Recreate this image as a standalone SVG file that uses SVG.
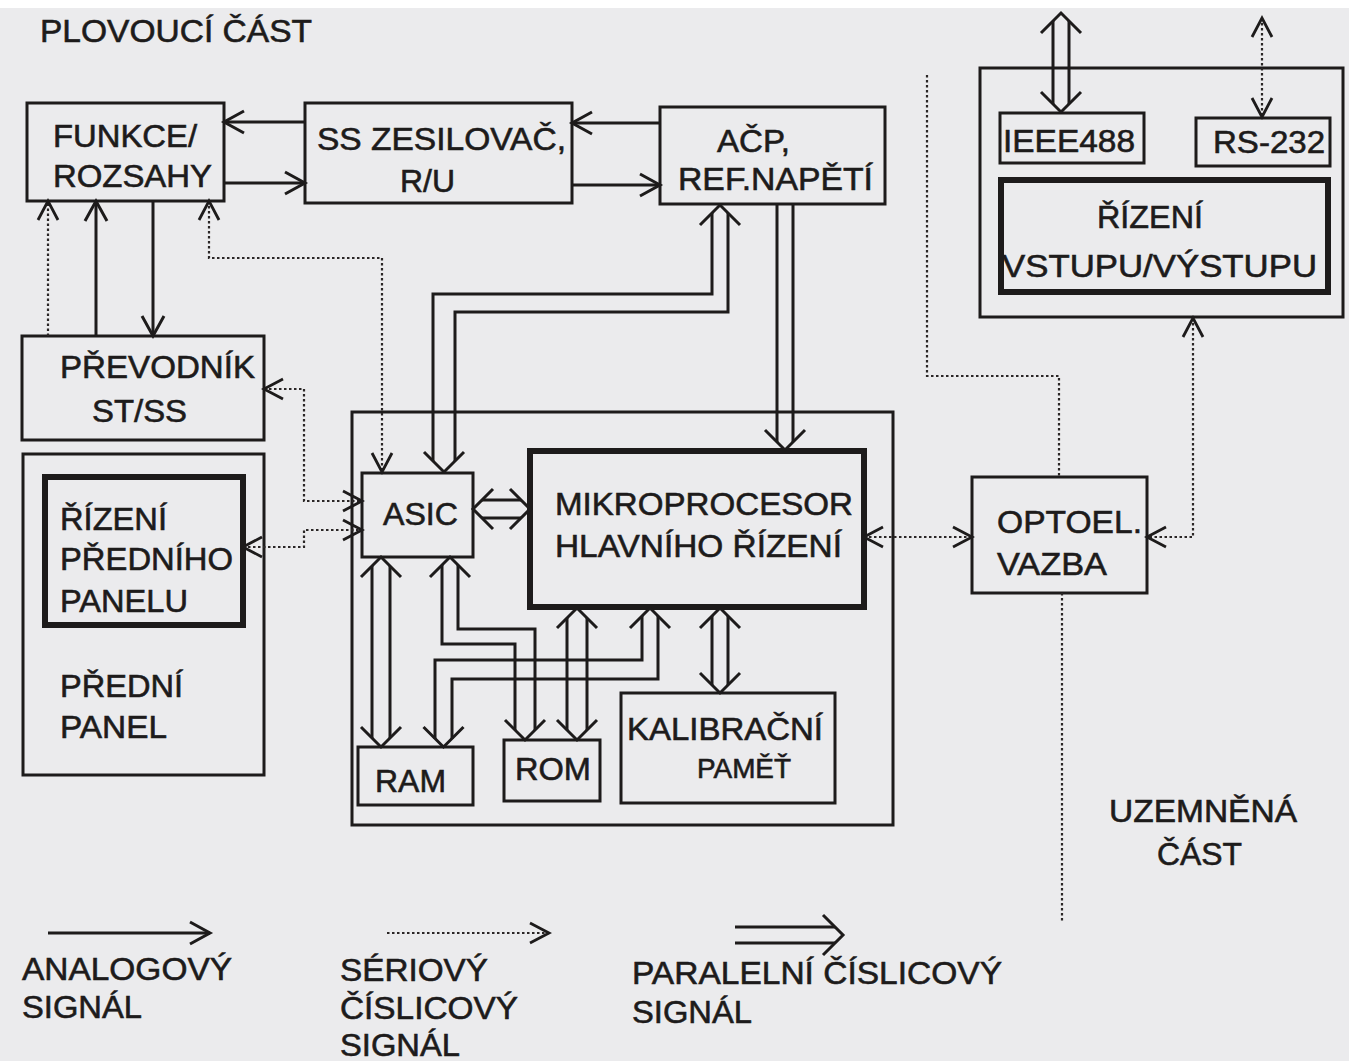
<svg xmlns="http://www.w3.org/2000/svg" width="1349" height="1061" viewBox="0 0 1349 1061">
<defs>
<style>
.box{fill:none;stroke:#1d1b1b;stroke-width:3}
.thick{fill:none;stroke:#1d1b1b;stroke-width:6}
.a{fill:none;stroke:#1d1b1b;stroke-width:3}
.d{fill:none;stroke:#2a2626;stroke-width:2.2;stroke-dasharray:2.5 2.5}
.bus{fill:none;stroke:#1d1b1b;stroke-width:3}
.t{font-family:"Liberation Sans",Arial,sans-serif;font-size:32px;fill:#1d1b1b;stroke:#1d1b1b;stroke-width:0.6}
.lg{font-size:32px}
</style>
<marker id="ah" markerUnits="userSpaceOnUse" markerWidth="30" markerHeight="30" refX="0" refY="0" orient="auto-start-reverse" overflow="visible">
<path d="M-20,-11 L0,0 L-20,11" fill="none" stroke="#1d1b1b" stroke-width="3"/>
</marker>
<marker id="ahd" markerUnits="userSpaceOnUse" markerWidth="30" markerHeight="30" refX="0" refY="0" orient="auto-start-reverse" overflow="visible">
<path d="M-19,-10 L0,0 L-19,10" fill="none" stroke="#1d1b1b" stroke-width="2.8"/>
</marker>
</defs>
<rect x="0" y="0" width="1349" height="1061" fill="#ebebed"/>
<rect x="0" y="0" width="1349" height="8" fill="#ffffff"/>

<text class="t" x="40" y="42" textLength="272" lengthAdjust="spacingAndGlyphs">PLOVOUCÍ ČÁST</text>

<g id="funkce"><rect class="box" x="27" y="103" width="197" height="98"/>
<text class="t" x="53" y="147" textLength="144" lengthAdjust="spacingAndGlyphs">FUNKCE/</text>
<text class="t" x="53" y="187" textLength="159" lengthAdjust="spacingAndGlyphs">ROZSAHY</text></g>

<g id="ss-zesilovac"><rect class="box" x="305" y="103" width="267" height="100"/>
<text class="t" x="317" y="150" textLength="249" lengthAdjust="spacingAndGlyphs">SS ZESILOVAČ,</text>
<text class="t" x="400" y="192" textLength="55" lengthAdjust="spacingAndGlyphs">R/U</text></g>

<g id="acp"><rect class="box" x="660" y="107" width="225" height="97"/>
<text class="t" x="717" y="152" textLength="73" lengthAdjust="spacingAndGlyphs">AČP,</text>
<text class="t" x="678" y="190" textLength="195" lengthAdjust="spacingAndGlyphs">REF.NAPĚTÍ</text></g>

<g id="prevodnik"><rect class="box" x="22" y="336" width="242" height="104"/>
<text class="t" x="60" y="378" textLength="195" lengthAdjust="spacingAndGlyphs">PŘEVODNÍK</text>
<text class="t" x="92" y="422" textLength="95" lengthAdjust="spacingAndGlyphs">ST/SS</text></g>

<g id="predni-panel"><rect class="box" x="23" y="454" width="241" height="321"/>
<text class="t" x="60" y="697" textLength="123" lengthAdjust="spacingAndGlyphs">PŘEDNÍ</text>
<text class="t" x="60" y="738" textLength="107" lengthAdjust="spacingAndGlyphs">PANEL</text></g>

<g id="rizeni-predniho"><rect class="thick" x="45" y="477" width="198" height="148"/>
<text class="t" x="60" y="530" textLength="107" lengthAdjust="spacingAndGlyphs">ŘÍZENÍ</text>
<text class="t" x="60" y="570" textLength="173" lengthAdjust="spacingAndGlyphs">PŘEDNÍHO</text>
<text class="t" x="60" y="612" textLength="128" lengthAdjust="spacingAndGlyphs">PANELU</text></g>

<g id="ridici-blok"><rect class="box" x="352" y="412" width="541" height="413"/></g>

<g id="asic"><rect class="box" x="362" y="473" width="111" height="84"/>
<text class="t" x="383" y="525" textLength="75" lengthAdjust="spacingAndGlyphs">ASIC</text></g>

<g id="mikroprocesor"><rect class="thick" x="530" y="451" width="334" height="156"/>
<text class="t" x="555" y="515" textLength="298" lengthAdjust="spacingAndGlyphs">MIKROPROCESOR</text>
<text class="t" x="555" y="557" textLength="287" lengthAdjust="spacingAndGlyphs">HLAVNÍHO ŘÍZENÍ</text></g>

<g id="ram"><rect class="box" x="358" y="747" width="115" height="58"/>
<text class="t" x="375" y="792" textLength="71" lengthAdjust="spacingAndGlyphs">RAM</text></g>

<g id="rom"><rect class="box" x="504" y="740" width="96" height="61"/>
<text class="t" x="515" y="780" textLength="76" lengthAdjust="spacingAndGlyphs">ROM</text></g>

<g id="kalibracni"><rect class="box" x="621" y="693" width="214" height="110"/>
<text class="t" x="627" y="740" textLength="196" lengthAdjust="spacingAndGlyphs">KALIBRAČNÍ</text>
<text class="t" x="697" y="778" style="font-size:27px" textLength="94" lengthAdjust="spacingAndGlyphs">PAMĚŤ</text></g>

<g id="optoel"><rect class="box" x="972" y="477" width="175" height="116"/>
<text class="t" x="997" y="533" textLength="145" lengthAdjust="spacingAndGlyphs">OPTOEL.</text>
<text class="t" x="997" y="575" textLength="110" lengthAdjust="spacingAndGlyphs">VAZBA</text></g>

<g id="uzemnena"><rect class="box" x="980" y="68" width="363" height="249"/></g>

<g id="ieee488"><rect class="box" x="1000" y="113" width="144" height="50"/>
<text class="t" x="1003" y="152" textLength="132" lengthAdjust="spacingAndGlyphs">IEEE488</text></g>

<g id="rs232"><rect class="box" x="1196" y="118" width="134" height="48"/>
<text class="t" x="1213" y="153" textLength="112" lengthAdjust="spacingAndGlyphs">RS-232</text></g>

<g id="rizeni-vstupu"><rect class="thick" x="1001" y="180" width="327" height="112"/>
<text class="t" x="1097" y="228" textLength="106" lengthAdjust="spacingAndGlyphs">ŘÍZENÍ</text>
<text class="t" x="1002" y="277" textLength="315" lengthAdjust="spacingAndGlyphs">VSTUPU/VÝSTUPU</text></g>

<text class="t" x="1109" y="822" textLength="188" lengthAdjust="spacingAndGlyphs">UZEMNĚNÁ</text>
<text class="t" x="1157" y="865" textLength="85" lengthAdjust="spacingAndGlyphs">ČÁST</text>

<g id="connectors">
<path class="a" d="M305,122 L224,122" marker-end="url(#ah)"/>
<path class="a" d="M224,183 L305,183" marker-end="url(#ah)"/>
<path class="a" d="M660,123 L572,123" marker-end="url(#ah)"/>
<path class="a" d="M572,185 L660,185" marker-end="url(#ah)"/>
<path class="a" d="M96,336 L96,201" marker-end="url(#ah)"/>
<path class="a" d="M153,201 L153,336" marker-end="url(#ah)"/>

<path class="d" d="M48,336 L48,201" marker-end="url(#ahd)"/>
<path class="d" d="M209,201 L209,258 L382,258 L382,472" marker-start="url(#ahd)" marker-end="url(#ahd)"/>
<path class="d" d="M264,389 L304,389 L304,501 L362,501" marker-start="url(#ahd)" marker-end="url(#ahd)"/>
<path class="d" d="M243,547 L304,547 L304,530 L362,530" marker-start="url(#ahd)" marker-end="url(#ahd)"/>
<path class="d" d="M864,537 L972,537" marker-start="url(#ahd)" marker-end="url(#ahd)"/>
<path class="d" d="M1193,318 L1193,537 L1147,537" marker-start="url(#ahd)" marker-end="url(#ahd)"/>
<path class="d" d="M1262,18 L1262,117" marker-start="url(#ahd)" marker-end="url(#ahd)"/>
<path class="d" d="M927,75 L927,376 L1059,376 L1059,477"/>
<path class="d" d="M1062,593 L1062,923"/>

<path class="bus" d="M712,213 L712,294 L433,294 L433,461 M728,213 L728,312 L455,312 L455,461"/>
<path class="bus" d="M700,225 L720,205 L740,225 M424,452 L444,472 L464,452"/>
<path class="bus" d="M777,204 L777,442 M793,204 L793,442"/>
<path class="bus" d="M765,430 L785,450 L805,430"/>
<path class="bus" d="M482,500 L521,500 M482,518 L521,518"/>
<path class="bus" d="M493,489 L473,509 L493,529 M510,489 L530,509 L510,529"/>
<path class="bus" d="M372,566 L372,738 M390,566 L390,738"/>
<path class="bus" d="M361,577 L381,557 L401,577 M361,727 L381,747 L401,727"/>
<path class="bus" d="M442,565 L442,644 L515,644 L515,730 M458,565 L458,629 L535,629 L535,730"/>
<path class="bus" d="M430,577 L450,557 L470,577 M505,720 L525,740 L545,720"/>
<path class="bus" d="M567,618 L567,730 M587,618 L587,730"/>
<path class="bus" d="M557,628 L577,608 L597,628 M557,720 L577,740 L597,720"/>
<path class="bus" d="M642,616 L642,660 L435,660 L435,739 M658,616 L658,679 L452,679 L452,739"/>
<path class="bus" d="M630,628 L650,608 L670,628 M423.5,727 L443.5,747 L463.5,727"/>
<path class="bus" d="M712,616 L712,685 M728,616 L728,685"/>
<path class="bus" d="M700,628 L720,608 L740,628 M700,673 L720,693 L740,673"/>
<path class="bus" d="M1053,21 L1053,104 M1069,21 L1069,104"/>
<path class="bus" d="M1041,33 L1061,13 L1081,33 M1041,92 L1061,112 L1081,92"/>
</g>

<g id="legenda">
<path class="a" d="M48,933 L210,933" marker-end="url(#ah)"/>
<path class="d" d="M387,933 L549,933" marker-end="url(#ahd)"/>
<path class="bus" d="M735,927 L835,927 M735,943 L835,943"/>
<path class="bus" d="M823,915 L843,935 L823,955"/>
<text class="t lg" x="22" y="980" textLength="210" lengthAdjust="spacingAndGlyphs">ANALOGOVÝ</text>
<text class="t lg" x="22" y="1018" textLength="120" lengthAdjust="spacingAndGlyphs">SIGNÁL</text>
<text class="t lg" x="340" y="981" textLength="148" lengthAdjust="spacingAndGlyphs">SÉRIOVÝ</text>
<text class="t lg" x="340" y="1019" textLength="178" lengthAdjust="spacingAndGlyphs">ČÍSLICOVÝ</text>
<text class="t lg" x="340" y="1056" textLength="120" lengthAdjust="spacingAndGlyphs">SIGNÁL</text>
<text class="t lg" x="632" y="984" textLength="370" lengthAdjust="spacingAndGlyphs">PARALELNÍ ČÍSLICOVÝ</text>
<text class="t lg" x="632" y="1023" textLength="120" lengthAdjust="spacingAndGlyphs">SIGNÁL</text>
</g>
</svg>
